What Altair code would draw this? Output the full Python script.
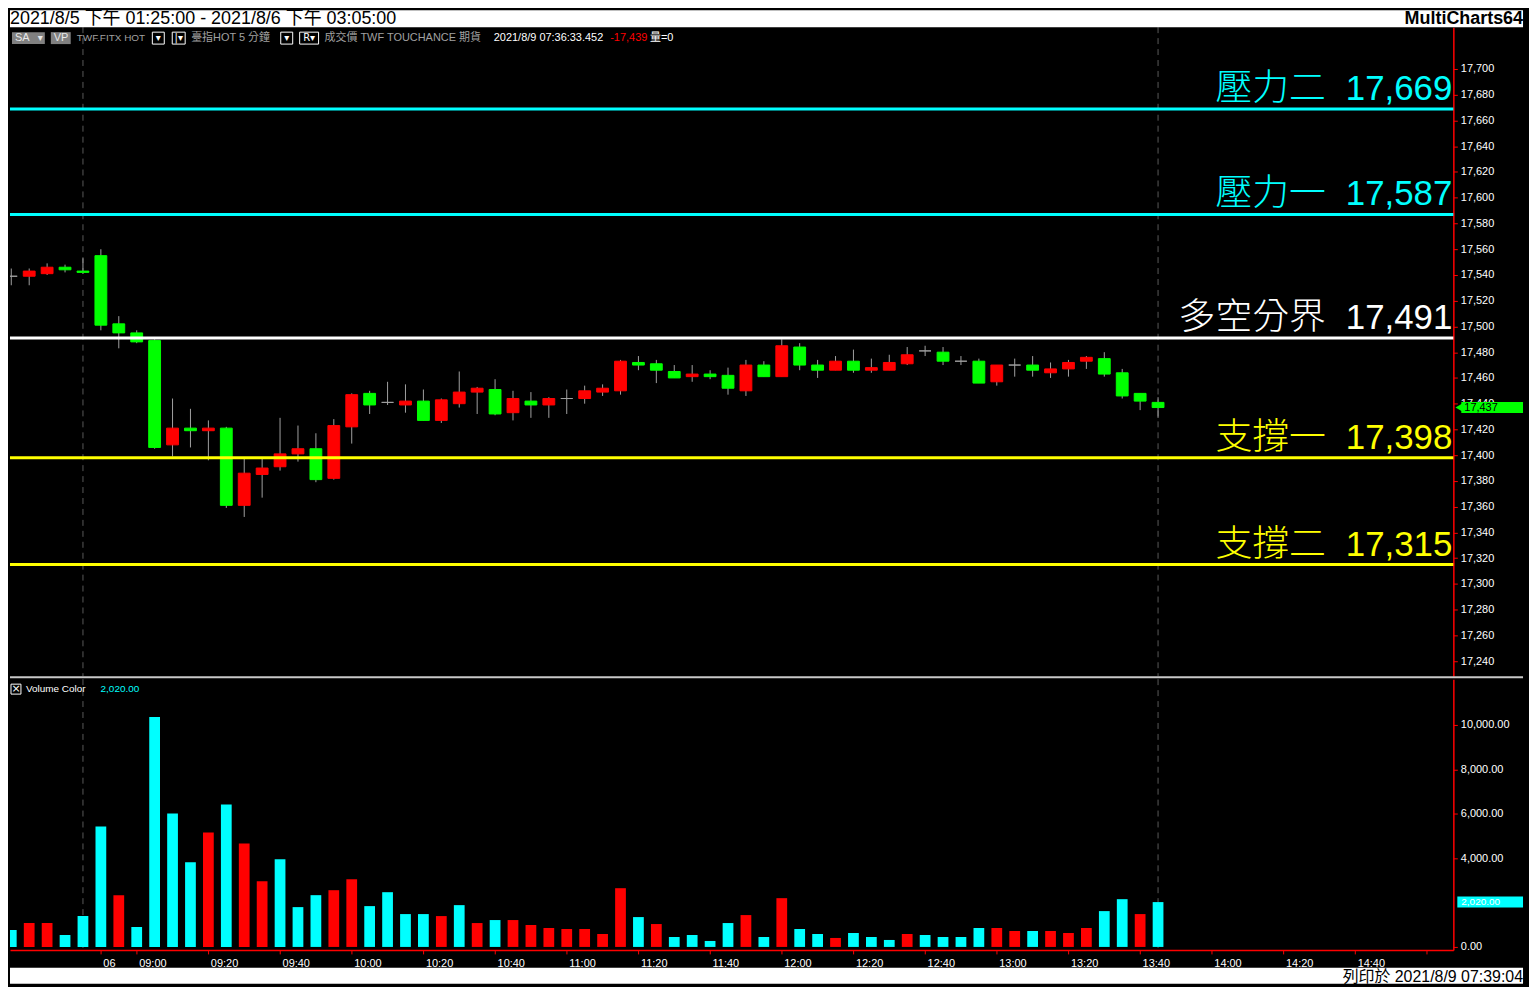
import json
import altair as alt
import pandas as pd

# ---------------- data ----------------
bar_index = list(range(65))
opens = [17539, 17539, 17541, 17546, 17543, 17555, 17502, 17495, 17489, 17408,
         17421, 17419, 17421, 17361, 17385, 17391, 17401, 17405, 17382, 17422,
         17448, 17441, 17439, 17442, 17427, 17440, 17449, 17451, 17433, 17442,
         17439, 17444, 17444, 17449, 17450, 17472, 17471, 17465, 17461, 17463,
         17462, 17450, 17470, 17461, 17484, 17470, 17466, 17473, 17466, 17466,
         17471, 17481, 17480, 17473, 17473, 17457, 17470, 17470, 17464, 17467,
         17473, 17475, 17464, 17448, 17441]
highs = [17545, 17545, 17549, 17548, 17553, 17560, 17508, 17497, 17490, 17444,
         17436, 17427, 17422, 17397, 17397, 17429, 17423, 17417, 17428, 17448,
         17450, 17457, 17455, 17451, 17444, 17465, 17453, 17459, 17450, 17449,
         17445, 17451, 17454, 17455, 17474, 17477, 17474, 17470, 17470, 17466,
         17468, 17474, 17473, 17490, 17487, 17474, 17477, 17482, 17475, 17478,
         17484, 17485, 17484, 17477, 17475, 17470, 17475, 17477, 17472, 17474,
         17477, 17480, 17467, 17448, 17445]
lows = [17532, 17532, 17540, 17542, 17541, 17497, 17483, 17487, 17405, 17399,
        17406, 17396, 17359, 17352, 17367, 17388, 17395, 17379, 17381, 17409,
        17432, 17439, 17433, 17427, 17425, 17437, 17432, 17431, 17427, 17429,
        17429, 17432, 17440, 17446, 17447, 17466, 17456, 17460, 17457, 17459,
        17447, 17446, 17461, 17461, 17466, 17460, 17466, 17464, 17464, 17466,
        17470, 17477, 17470, 17470, 17456, 17454, 17461, 17461, 17460, 17461,
        17467, 17461, 17444, 17435, 17429]
closes = [17539, 17543, 17546, 17544, 17542, 17501, 17495, 17488, 17406, 17421,
          17419, 17421, 17361, 17386, 17390, 17401, 17405, 17381, 17423, 17447,
          17439, 17441, 17442, 17427, 17443, 17449, 17452, 17432, 17444, 17439,
          17444, 17444, 17450, 17452, 17473, 17470, 17466, 17460, 17463, 17461,
          17452, 17470, 17461, 17485, 17470, 17466, 17473, 17466, 17468, 17472,
          17478, 17481, 17473, 17473, 17456, 17470, 17470, 17466, 17467, 17472,
          17476, 17463, 17446, 17442, 17437]
volumes = [762, 1076, 1076, 538, 1390, 5426, 2332, 897, 10359, 6009,
           3812, 5157, 6413, 4664, 2960, 3946, 1794, 2332, 2556, 3049,
           1839, 2466, 1480, 1480, 1390, 1883, 1076, 1211, 1211, 987,
           852, 807, 807, 583, 2646, 1345, 1031, 448, 538, 269,
           1076, 1435, 448, 2197, 807, 583, 404, 628, 448, 314,
           583, 538, 448, 448, 852, 852, 717, 717, 717, 628,
           852, 1614, 2152, 1480, 2020]
vol_side = ["dn", "up", "up", "dn", "dn", "dn", "up", "dn", "dn", "dn",
            "dn", "up", "dn", "up", "up", "dn", "dn", "dn", "up", "up",
            "dn", "dn", "dn", "dn", "up", "dn", "up", "dn", "up", "up",
            "up", "up", "up", "up", "up", "dn", "up", "dn", "dn", "dn",
            "dn", "up", "dn", "up", "dn", "dn", "up", "dn", "dn", "dn",
            "up", "dn", "dn", "dn", "dn", "up", "up", "dn", "up", "up",
            "up", "dn", "dn", "up", "dn"]

level_names = ["壓力二", "壓力一", "多空分界", "支撐一", "支撐二"]
level_values = [17669, 17587, 17491, 17398, 17315]
level_kinds = ["resist", "resist", "pivot", "support", "support"]

session_end_bars = [4, 64]   # 13:45 of each day

tick_bars = [5, 7, 11, 15, 19, 23, 27, 31, 35, 39, 43, 47, 51, 55, 59, 63, 67, 71, 75, 79]
tick_labels = ["06", "09:00", "09:20", "09:40", "10:00", "10:20", "10:40", "11:00",
               "11:20", "11:40", "12:00", "12:20", "12:40", "13:00", "13:20", "13:40",
               "14:00", "14:20", "14:40", ""]
price_ticks = list(range(17240, 17701, 20))
volume_ticks = [0, 4000, 6000, 8000, 10000]   # 2,000.00 is hidden by the last-value tag

title_text = "2021/8/5 下午 01:25:00 - 2021/8/6 下午 03:05:00"
brand_text = "MultiCharts64"
footer_text = "列印於 2021/8/9 07:39:04"

df = pd.DataFrame({"i": bar_index, "open": opens, "high": highs, "low": lows,
                   "close": closes, "vol": volumes, "vside": vol_side})
levels = pd.DataFrame({"name": level_names, "value": level_values, "kind": level_kinds})
breaks = pd.DataFrame({"i": session_end_bars})
last = df.iloc[[-1]]
one = pd.DataFrame({"k": [0]})

# ---------------- layout ----------------
W, HP, HV, RIGHT = 1450, 652, 272, 1520
FONT = "Liberation Sans, Noto Sans CJK TC, sans-serif"
CJK = "Noto Sans CJK TC, sans-serif"
RED, GREEN, CYAN, YELLOW = "#FF0000", "#00FF00", "#00FFFF", "#FFFF00"

xsc = alt.Scale(domain=[-0.072, 80.48], nice=False, zero=False)
psc = alt.Scale(domain=[17228.3, 17732.5], nice=False, zero=False)
vsc = alt.Scale(domain=[-134.5, 12063], nice=False, zero=False)
csc = alt.Scale(domain=["up", "dn", "flat"], range=[RED, GREEN, "#A0A0A0"])
lsc = alt.Scale(domain=["resist", "pivot", "support"], range=[CYAN, "#FFFFFF", YELLOW])
vcs = alt.Scale(domain=["up", "dn"], range=[RED, CYAN])

axis_style = dict(title=None, grid=False, domainColor=RED, domainWidth=1.5, tickColor=RED,
                  tickSize=4, labelColor="#FFFFFF", labelFont="Liberation Sans",
                  labelFontSize=11, labelOverlap=False)
PA = alt.Axis(orient="right", values=price_ticks, format=",d", labelPadding=3, **axis_style)
VA = alt.Axis(orient="right", values=volume_ticks, format=",.2f", labelPadding=3, **axis_style)
label_expr = "%s[indexof(%s, datum.value)]" % (json.dumps(tick_labels), json.dumps(tick_bars))
TA = alt.Axis(values=tick_bars, labelExpr=label_expr, labelAlign="left", labelOffset=2,
              labelPadding=4, labelFlush=False, **axis_style)


def text_at(s, x, y, color, size, font=FONT, align="left", baseline="middle", weight="normal"):
    return alt.Chart(one).mark_text(text=s, align=align, baseline=baseline, color=color,
                                    fontSize=size, font=font, fontWeight=weight).encode(
        x=alt.value(x), y=alt.value(y))


def rect_at(x1, x2, y1, y2, fill, stroke=None):
    kw = dict(fill=fill)
    if stroke:
        kw.update(stroke=stroke, strokeWidth=1)
    return alt.Chart(one).mark_rect(**kw).encode(
        x=alt.value(x1), x2=alt.value(x2), y=alt.value(y1), y2=alt.value(y2))


# ---------------- price panel ----------------
cand = alt.Chart(df).transform_calculate(
    side="datum.close > datum.open ? 'up' : (datum.close < datum.open ? 'dn' : 'flat')",
    xa="datum.i - 0.33", xb="datum.i + 0.33")

dash_p = alt.Chart(breaks).mark_rule(color="#5A5A5A", strokeDash=[6, 5], strokeWidth=1).encode(
    x=alt.X("i:Q", scale=xsc, axis=None))
wicks = cand.mark_rule(color="#A0A0A0", strokeWidth=1, clip=True).encode(
    x=alt.X("i:Q", scale=xsc, axis=None),
    y=alt.Y("low:Q", scale=psc, axis=PA), y2="high:Q")
bodies = cand.mark_rect(strokeWidth=1, clip=True).encode(
    x=alt.X("xa:Q", scale=xsc, axis=None), x2="xb:Q",
    y=alt.Y("open:Q", scale=psc, axis=PA), y2="close:Q",
    color=alt.Color("side:N", scale=csc, legend=None),
    stroke=alt.Stroke("side:N", scale=csc, legend=None))

lv = alt.Chart(levels)
lv_lines = lv.mark_rule(strokeWidth=3).encode(
    y=alt.Y("value:Q", scale=psc, axis=PA),
    color=alt.Color("kind:N", scale=lsc, legend=None))
lv_names = lv.mark_text(align="right", baseline="alphabetic", dy=-9, fontSize=37,
                        font=CJK, fontWeight=300).encode(
    x=alt.value(1322), y=alt.Y("value:Q", scale=psc, axis=PA), text="name:N",
    color=alt.Color("kind:N", scale=lsc, legend=None))
lv_nums = lv.mark_text(align="right", baseline="alphabetic", dy=-9, fontSize=35,
                       font="Liberation Sans").encode(
    x=alt.value(1449), y=alt.Y("value:Q", scale=psc, axis=PA),
    text=alt.Text("value:Q", format=","),
    color=alt.Color("kind:N", scale=lsc, legend=None))

lastc = alt.Chart(last)
ptag = lastc.mark_rule(color=GREEN, strokeWidth=11, strokeCap="butt").encode(
    x=alt.value(1458), x2=alt.value(RIGHT), y=alt.Y("close:Q", scale=psc, axis=PA))
ptag_tip = lastc.mark_point(shape="triangle-left", filled=True, size=80, color=GREEN, opacity=1).encode(
    x=alt.value(1456), y=alt.Y("close:Q", scale=psc, axis=PA))
ptag_txt = lastc.mark_text(align="left", baseline="middle", fontSize=11, font="Liberation Sans",
                           color="#000000").encode(
    x=alt.value(1461), y=alt.Y("close:Q", scale=psc, axis=PA),
    text=alt.Text("close:Q", format=","))

GRAY = "#A0A0A0"
header = [
    rect_at(2, 35, 5, 17, "#808080"),
    text_at("SA", 5, 11, "#E8E8E8", 11),
    text_at("▾", 28, 11, "#E8E8E8", 10, font="DejaVu Sans"),
    rect_at(41, 61, 5, 17, "#808080"),
    text_at("VP", 44, 11, "#E8E8E8", 11),
    text_at("TWF.FITX HOT", 67, 11, GRAY, 10),
    rect_at(143, 155, 5, 17, "#000000", "#FFFFFF"),
    text_at("▾", 149, 11, "#FFFFFF", 10, font="DejaVu Sans", align="center"),
    rect_at(163, 176, 5, 17, "#000000", "#FFFFFF"),
    text_at("|▾", 169.5, 11, "#FFFFFF", 10, font="DejaVu Sans", align="center"),
    text_at("臺指HOT  5 分鐘", 182, 11, GRAY, 11),
    rect_at(272, 284, 5, 17, "#000000", "#FFFFFF"),
    text_at("▾", 278, 11, "#FFFFFF", 10, font="DejaVu Sans", align="center"),
    rect_at(291, 310, 5, 17, "#000000", "#FFFFFF"),
    text_at("R▾", 300.5, 11, "#FFFFFF", 10, font="DejaVu Sans", align="center"),
    text_at("成交價  TWF  TOUCHANCE  期貨", 316, 11, GRAY, 11),
    text_at("2021/8/9  07:36:33.452", 486, 11, "#FFFFFF", 11),
    text_at("-17,439", 603, 11, RED, 11),
    text_at("量=0", 643, 11, "#FFFFFF", 11),
]

title_band = [
    rect_at(0, RIGHT, -17, 0, "#FFFFFF"),
    text_at(title_text, 0, -3, "#000000", 18, baseline="alphabetic"),
    text_at(brand_text, RIGHT, -3, "#000000", 18, align="right", baseline="alphabetic", weight="bold"),
]

separator = alt.Chart(one).mark_rule(color="#C8C8C8", strokeWidth=2).encode(
    x=alt.value(0), x2=alt.value(RIGHT), y=alt.value(HP + 1))

price = alt.layer(
    dash_p, wicks, bodies, lv_lines, lv_names, lv_nums, ptag, ptag_tip, ptag_txt,
    *header, *title_band, separator
).resolve_scale(color="independent", stroke="independent").properties(width=W, height=HP)

# ---------------- volume panel ----------------
vol = alt.Chart(df).transform_calculate(xa="datum.i - 0.3", xb="datum.i + 0.3", base="0")
dash_v = alt.Chart(breaks).mark_rule(color="#5A5A5A", strokeDash=[6, 5], strokeWidth=1).encode(
    x=alt.X("i:Q", scale=xsc, axis=TA))
vbars = vol.mark_rect(clip=True).encode(
    x=alt.X("xa:Q", scale=xsc, axis=TA), x2="xb:Q",
    y=alt.Y("vol:Q", scale=vsc, axis=VA), y2="base:Q",
    color=alt.Color("vside:N", scale=vcs, legend=None))
vtag = lastc.mark_rule(color=CYAN, strokeWidth=11, strokeCap="butt").encode(
    x=alt.value(1454), x2=alt.value(RIGHT), y=alt.Y("vol:Q", scale=vsc, axis=VA))
vtag_txt = lastc.mark_text(align="left", baseline="middle", fontSize=10, font="Liberation Sans",
                           color="#FFFFFF").encode(
    x=alt.value(1458), y=alt.Y("vol:Q", scale=vsc, axis=VA),
    text=alt.Text("vol:Q", format=",.2f"))
vheader = [
    rect_at(1, 11, 5, 15, "#000000", "#FFFFFF"),
    text_at("×", 6, 10, "#FFFFFF", 11, font="DejaVu Sans", align="center"),
    text_at("Volume Color", 16, 10, "#FFFFFF", 10),
    text_at("2,020.00", 91, 10, CYAN, 10),
]
footer = [
    rect_at(0, RIGHT, 290, 306, "#FFFFFF"),
    text_at(footer_text, RIGHT, 304, "#000000", 16, align="right", baseline="alphabetic"),
]

volume = alt.layer(dash_v, vbars, vtag, vtag_txt, *vheader, *footer).properties(width=W, height=HV)

chart = alt.vconcat(price, volume, spacing=0).resolve_scale(
    x="independent", y="independent", color="independent", stroke="independent"
).properties(padding={"left": 0, "top": 0, "right": 0, "bottom": 0}).configure(
    background="#000000"
).configure_view(stroke=None, fill="#000000")

chart.save("out.html", embed_options={"renderer": "svg", "actions": False})
